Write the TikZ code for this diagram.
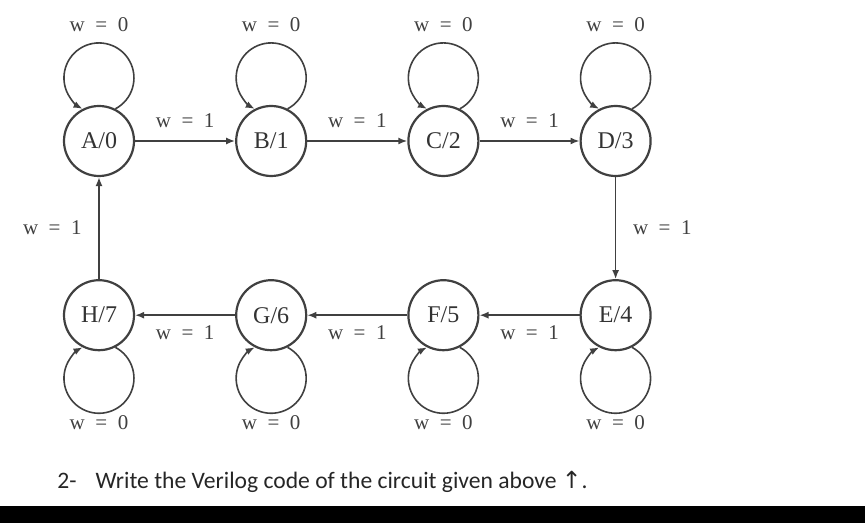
\documentclass[tikz,border=0pt]{standalone}
\usepackage{fontspec}
\setmainfont{Liberation Serif}
\newfontfamily\notefont{Carlito}
\newfontfamily\arrowfont{DejaVu Sans}
\usetikzlibrary{arrows.meta,positioning}
\newcommand\wlab[1]{w\enspace=\enspace#1}

\begin{document}
\begin{tikzpicture}[
node distance=51pt and 50pt,
state/.style={draw=black!75,circle,line width=1.1pt,minimum size=35pt,inner sep=0pt,font=\fontsize{12}{14}\selectfont,text=black!80},
lab/.style={font=\fontsize{10.5}{12}\selectfont,text=black!75},
arr/.style={-{Latex[length=4.5pt,width=3.5pt]},draw=black!75,line width=0.8pt}]
\useasboundingbox (-49.5pt,70.5pt) rectangle (383pt,-191pt);
\node[state] (A) {A/0};
\node[state,right=of A] (B) {B/1};
\node[state,right=of B] (C) {C/2};
\node[state,right=of C] (D) {D/3};
\node[state,below=of A] (H) {H/7};
\node[state,right=of H] (G) {G/6};
\node[state,right=of G] (F) {F/5};
\node[state,right=of F] (E) {E/4};
\draw[arr] (A) -- node[lab,above=3pt] (ab) {\wlab1} (B);
\draw[arr] (B) -- node[lab,above=3pt] (bc) {\wlab1} (C);
\draw[arr] (C) -- node[lab,above=3pt] (cd) {\wlab1} (D);
\draw[arr] (D) -- node[lab,right=5pt] (de) {\wlab1} (E);
\draw[arr] (E) -- node[lab,below=1.5pt] (ef) {\wlab1} (F);
\draw[arr] (F) -- node[lab,below=1.5pt] (fg) {\wlab1} (G);
\draw[arr] (G) -- node[lab,below=1.5pt] (gh) {\wlab1} (H);
\draw[arr] (H) -- node[lab,left=5pt] (ha) {\wlab1} (A);
% self loops
\foreach \s in {A,B,C,D}{
  \draw[arr] (\s.63) arc[start angle=-62,end angle=242,radius=17.5pt];
  \node[lab] (w\s) at ([yshift=58pt]\s.center) {\wlab0};
}
\foreach \s in {E,F,G,H}{
  \draw[arr] (\s.-63) arc[start angle=62,end angle=-242,radius=17.5pt];
  \node[lab] (w\s) at ([yshift=-53.5pt]\s.center) {\wlab0};
}
\node[anchor=base west,inner sep=0pt,font=\notefont\fontsize{11.8}{14}\selectfont,text=black!85] (task) at (-21pt,-173.5pt) {2-\hspace{9.5pt}Write the Verilog code of the circuit given above {\arrowfont ↑}.};
\fill (-49.5pt,-182.5pt) rectangle (383pt,-191pt);
\end{tikzpicture}
\end{document}
